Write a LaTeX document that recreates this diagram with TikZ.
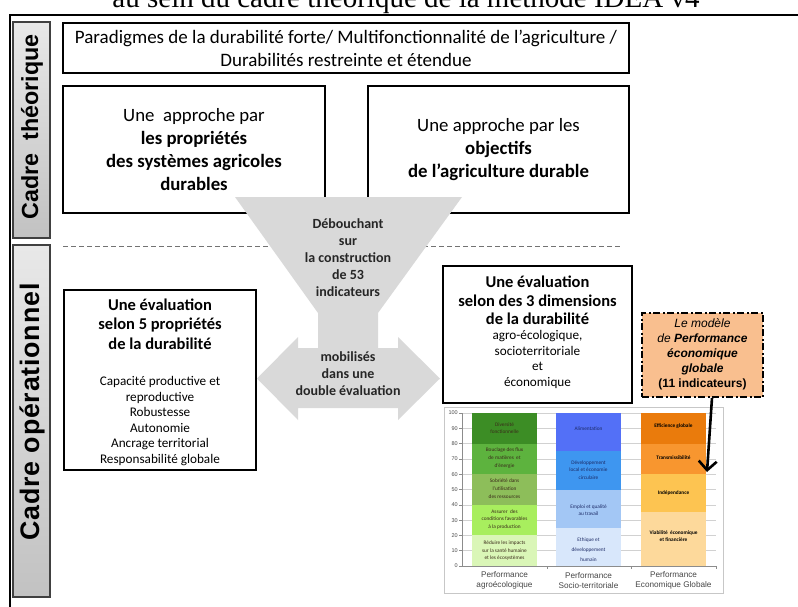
\documentclass[tikz,border=0pt]{standalone}
\usepackage{fontspec}
\setmainfont{Carlito}
\newfontfamily\arialf{Liberation Sans}
\newfontfamily\arialsp[LetterSpace=3]{Liberation Sans}
\newfontfamily\timesf{Liberation Serif}
\usetikzlibrary{arrows.meta}
\definecolor{fgray}{HTML}{D9D9D9}
\definecolor{orbox}{HTML}{F9BF8F}
\definecolor{gA}{HTML}{3C8D25}
\definecolor{gB}{HTML}{5DB33E}
\definecolor{gC}{HTML}{8DBE5A}
\definecolor{gD}{HTML}{A8EE5E}
\definecolor{gE}{HTML}{DAF6B7}
\definecolor{bA}{HTML}{5370F7}
\definecolor{bB}{HTML}{3E96F0}
\definecolor{bC}{HTML}{A3C7F5}
\definecolor{bD}{HTML}{D8E7FB}
\definecolor{oA}{HTML}{EA7B0C}
\definecolor{oB}{HTML}{F8962F}
\definecolor{oC}{HTML}{FDC451}
\definecolor{oD}{HTML}{FDD99B}
\definecolor{gtxt}{HTML}{3A2A1A}
\definecolor{btxt}{HTML}{1C2A66}
\tikzset{
  box/.style={draw=black, line width=1.8pt, fill=white, inner sep=0pt, align=center},
  sidebar/.style={draw=black!75, line width=1.1pt, top color=black!9, bottom color=black!24, inner sep=0pt},
  sidetxt/.style={rotate=90, inner sep=0pt},
  fz/.style={font=\bfseries\fontsize{14}{17}\selectfont, align=center, inner sep=0pt, text=black!85},
  headtxt/.style={font=\bfseries\fontsize{16.5}{19.4}\selectfont, align=center, inner sep=0pt},
  listtxt/.style={font=\fontsize{13.2}{15.6}\selectfont, align=center, inner sep=0pt},
  bartxt/.style={font=\fontsize{5.3}{7.7}\selectfont, align=center, inner sep=0pt},
  axl/.style={font=\arialf\fontsize{5.5}{5.5}\selectfont, text=black!70, anchor=east, inner sep=0pt},
  catl/.style={font=\arialf\fontsize{8.2}{9.5}\selectfont, text=black!72, align=center, inner sep=0pt},
  gridl/.style={black!18, line width=0.6pt},
  axisl/.style={black!45, line width=0.6pt}
}
\begin{document}
\begin{tikzpicture}[x=1pt,y=-1pt]
\useasboundingbox (0,0) rectangle (798,606);
\clip (0,0) rectangle (798,606);
% clipped title
\node[anchor=base, inner sep=0pt, font=\timesf\fontsize{29}{29}\selectfont] (title) at (406,7) {au sein du cadre théorique de la méthode IDEA v4};
% outer frame
\draw[line width=1.5pt] (10,640) -- (10,15) -- (830,15);
% side bars
\node[sidebar, minimum width=37pt, minimum height=216pt] (sb1) at (31.5,130) {};
\node[sidetxt, font=\arialf\bfseries\fontsize{23.3}{24}\selectfont] (sb1t) at (32,127) {Cadre\ \ théorique};
\node[sidebar, minimum width=37pt, minimum height=352pt] (sb2) at (31.5,421) {};
\node[sidetxt, font=\arialsp\bfseries\fontsize{26.8}{27}\selectfont] (sb2t) at (32,412) {Cadre opérationnel};
% theoretical frame
\node[box, minimum width=566pt, minimum height=50pt, font=\fontsize{19}{23}\selectfont] (top) at (346,48) {Paradigmes de la durabilité forte/ Multifonctionnalité de l’agriculture /\\Durabilités restreinte et étendue};
\node[box, minimum width=262pt, minimum height=127pt, font=\fontsize{18.8}{22.7}\selectfont] (appA) at (194,149.5) {Une\ \ approche par\\\textbf{les propriétés}\\\textbf{des systèmes agricoles}\\\textbf{durables}};
\node[box, minimum width=261pt, minimum height=127pt, font=\fontsize{18.8}{22.7}\selectfont] (appB) at (498.5,149.5) {Une approche par les\\\textbf{objectifs}\\\textbf{de l’agriculture durable}};
% separator
\draw[black!55, line width=1pt, dash pattern=on 5pt off 3pt] (63,246) -- (622,246);
% funnel and double arrow
\fill[fgray] (235,197) -- (462,197) -- (378,313) -- (378,348) -- (398,348) -- (398,337) -- (440,378.5) -- (398,420) -- (398,408) -- (298,408) -- (298,420) -- (257,378.5) -- (298,337) -- (298,348) -- (318,348) -- (318,313) -- cycle;
\node[fz] (funtxt) at (348,257.5) {Débouchant\\sur\\la construction\\de 53\\indicateurs};
\node[fz] (dbltxt) at (348,374) {mobilisés\\dans une\\double évaluation};
% operational boxes
\node[box, minimum width=192pt, minimum height=180pt] (evalC) at (160,380) {};
\node[headtxt] (evalCh) at (160,324) {Une évaluation\\selon 5 propriétés\\de la durabilité};
\node[listtxt] (evalCl) at (160,421) {Capacité productive et\\reproductive\\Robustesse\\Autonomie\\Ancrage territorial\\Responsabilité globale};
\node[box, minimum width=189pt, minimum height=137pt] (evalD) at (537.5,334.5) {};
\node[headtxt, font=\bfseries\fontsize{16.5}{18.6}\selectfont] (evalDh) at (537.5,300.5) {Une évaluation\\selon des 3 dimensions\\de la durabilité};
\node[listtxt] (evalDl) at (537.5,359.5) {agro-écologique,\\socioterritoriale\\et\\économique};
% chart
\node[draw=black!22, line width=0.8pt, fill=white, minimum width=279pt, minimum height=186pt, inner sep=0pt] (chart) at (583.5,500) {};
\begin{scope}[shift={(0,566)}, y=1.53pt]
  \foreach \v in {10,20,...,100} \draw[gridl] (462,\v) -- (716,\v);
  \fill[gA] (472,80) rectangle (537,100);
  \fill[gB] (472,60) rectangle (537,80);
  \fill[gC] (472,40) rectangle (537,60);
  \fill[gD] (472,20) rectangle (537,40);
  \fill[gE] (472,0) rectangle (537,20);
  \fill[bA] (556,75) rectangle (621,100);
  \fill[bB] (556,50) rectangle (621,75);
  \fill[bC] (556,25) rectangle (621,50);
  \fill[bD] (556,0) rectangle (621,25);
  \fill[oA] (641,80) rectangle (706,100);
  \fill[oB] (641,60) rectangle (706,80);
  \fill[oC] (641,35) rectangle (706,60);
  \fill[oD] (641,0) rectangle (706,35);
  \draw[axisl] (462,0) -- (716,0);
  \draw[axisl] (462,0) -- (462,100);
  \foreach \v in {0,10,...,100} {
    \draw[axisl] (459,\v) -- (462,\v);
    \node[axl] (yl\v) at (458,\v) {\v};
  }
  \foreach \x in {547,631,716} \draw[axisl] (\x,0) -- (\x,-2);
  \node[bartxt, text=gtxt] (g1) at (504.5,90) {Diversité\\fonctionnelle};
  \node[bartxt, text=gtxt] (g2) at (504.5,70.5) {Bouclage des flux\\de matières\ \ et\\d’énergie};
  \node[bartxt, text=gtxt] (g3) at (504.5,50.5) {Sobriété dans\\l’utilisation\\des ressources};
  \node[bartxt, text=gtxt] (g4) at (504.5,30.5) {Assurer\ \ des\\conditions favorables\\à la production};
  \node[bartxt, text=gtxt] (g5) at (504.5,10) {Réduire les impacts\\sur la santé humaine\\et les écosystèmes};
  \node[bartxt, text=btxt] (b1) at (588.5,90) {Alimentation};
  \node[bartxt, text=btxt] (b2) at (588.5,62.7) {Développement\\local et économie\\circulaire};
  \node[bartxt, text=btxt] (b3) at (588.5,36.5) {Emploi et qualité\\au travail};
  \node[bartxt, text=btxt, font=\fontsize{5.3}{10}\selectfont] (b4) at (588.5,10.5) {Ethique et\\développement\\humain};
  \node[bartxt, font=\bfseries\fontsize{5.3}{7.7}\selectfont] (o1) at (673.5,91.5) {Efficience globale};
  \node[bartxt, font=\bfseries\fontsize{5.3}{7.7}\selectfont] (o2) at (673.5,70.5) {Transmissibilité};
  \node[bartxt, font=\bfseries\fontsize{5.3}{7.7}\selectfont] (o3) at (673.5,47.7) {Indépendance};
  \node[bartxt, font=\bfseries\fontsize{5.3}{7.7}\selectfont] (o4) at (673.5,19.6) {Viabilité\ \ économique\\et financière};
\end{scope}
\node[catl] (c1) at (504.5,580.5) {Performance\\agroécologique};
\node[catl] (c2) at (588.5,580.5) {Performance\\Socio-territoriale};
\node[catl] (c3) at (673.5,580.5) {Performance\\Economique Globale};
% economic model box
\node[draw=black, line width=1.8pt, fill=orbox, dash pattern=on 7pt off 2.5pt on 2pt off 2.5pt, minimum width=121pt, minimum height=84pt, inner sep=0pt] (orange) at (702.5,355) {};
\node[font=\arialf\fontsize{12}{15}\selectfont, align=center, inner sep=0pt] (orangetxt) at (702.5,354) {{\itshape Le modèle}\\{\itshape de \bfseries Performance}\\{\bfseries\itshape économique}\\{\bfseries\itshape globale}\\{\bfseries (11 indicateurs)}};
\coordinate (arrE) at (707,472);
\draw[line width=2.6pt, -{Straight Barb[length=9pt,width=18pt]}] ([xshift=9.5pt]orange.south) -- (arrE);
\end{tikzpicture}
\end{document}
